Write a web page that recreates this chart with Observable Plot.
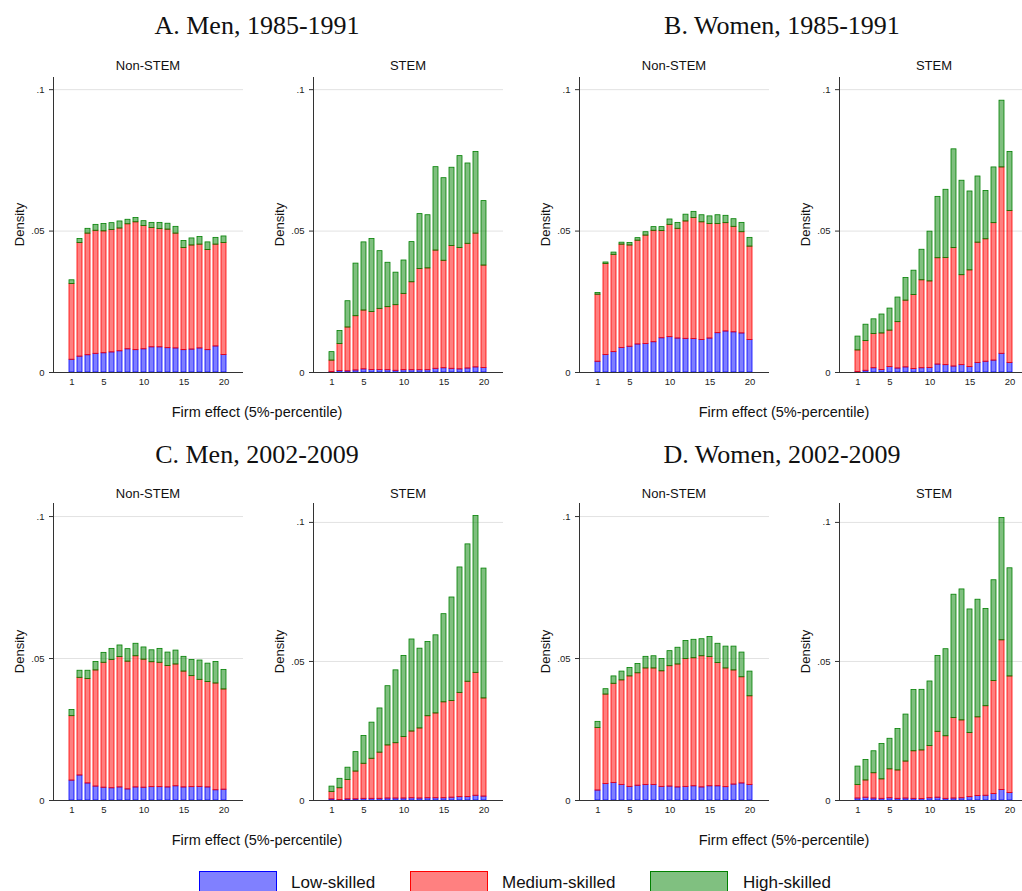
<!DOCTYPE html>
<html><head><meta charset="utf-8">
<script src="https://cdn.jsdelivr.net/npm/d3@7"></script>
<script src="https://cdn.jsdelivr.net/npm/@observablehq/plot@0.6"></script>
<style>
body{margin:0;background:#fff;}
#root{position:relative;width:1022px;height:891px;overflow:hidden;font-family:"Liberation Sans",Arial,sans-serif;color:#111;}
.t{position:absolute;white-space:nowrap;line-height:1;}
.title{font-family:"Liberation Serif","Times New Roman",serif;font-size:26px;text-align:center;width:400px;}
.sub{font-size:13px;text-align:center;width:190px;}
.xl{font-size:14.5px;text-align:center;width:300px;}
.yl{font-size:13px;transform:rotate(-90deg);transform-origin:center;text-align:center;width:80px;}
.box{position:absolute;width:78px;height:26px;box-sizing:border-box;}
.leg{font-size:17px;}
.sp{position:absolute;}
.sp svg{max-width:none !important;display:block;}
</style></head><body><div id="root"></div>
<script>
// ---------- data ----------
const bins = [1,2,3,4,5,6,7,8,9,10,11,12,13,14,15,16,17,18,19,20];
const skills = ["Low-skilled","Medium-skilled","High-skilled"];
const skillColors = ["#0000ff","#ff0000","#008000"];
const xTicks = [1,5,10,15,20];
const yTicks = [0,0.05,0.1];
const yTickLabels = ["0",".05",".1"];
const panelTitles = ["A. Men, 1985-1991","B. Women, 1985-1991","C. Men, 2002-2009","D. Women, 2002-2009"];
const subTitles = ["Non-STEM","STEM"];
const xLabel = "Firm effect (5%-percentile)";
const yLabel = "Density";

// A. Men, 1985-1991
const menEarlyNonStemLow  = [.0045,.0056,.0061,.0066,.0068,.0071,.0075,.0082,.0079,.0082,.0089,.0089,.0086,.0085,.0079,.0081,.0085,.0079,.0092,.0062];
const menEarlyNonStemMed  = [.0268,.0402,.0430,.0435,.0431,.0433,.0434,.0442,.0452,.0436,.0422,.0418,.0419,.0406,.0361,.0368,.0367,.0354,.0360,.0396];
const menEarlyNonStemHigh = [.0013,.0014,.0017,.0021,.0026,.0024,.0025,.0016,.0015,.0017,.0018,.0022,.0021,.0024,.0025,.0025,.0027,.0027,.0024,.0023];
const menEarlyStemLow  = [.0002,.0005,.0004,.0007,.0011,.0009,.0009,.0008,.0006,.0008,.0008,.0008,.0008,.0013,.0015,.0013,.0011,.0014,.0018,.0016];
const menEarlyStemMed  = [.0040,.0096,.0155,.0192,.0208,.0205,.0216,.0223,.0232,.0270,.0311,.0358,.0360,.0418,.0380,.0434,.0429,.0441,.0473,.0362];
const menEarlyStemHigh = [.0030,.0046,.0093,.0186,.0241,.0258,.0204,.0157,.0115,.0118,.0142,.0194,.0188,.0295,.0292,.0277,.0325,.0284,.0289,.0228];
// B. Women, 1985-1991
const womenEarlyNonStemLow  = [.0038,.0062,.0072,.0087,.0091,.0099,.0101,.0107,.0121,.0125,.0120,.0119,.0118,.0115,.0120,.0139,.0145,.0142,.0138,.0115];
const womenEarlyNonStemMed  = [.0237,.0322,.0344,.0365,.0358,.0367,.0383,.0394,.0379,.0397,.0388,.0415,.0428,.0416,.0405,.0386,.0383,.0373,.0358,.0330];
const womenEarlyNonStemHigh = [.0006,.0005,.0008,.0007,.0009,.0009,.0012,.0013,.0014,.0019,.0021,.0024,.0022,.0025,.0027,.0031,.0026,.0027,.0033,.0031];
const womenEarlyStemLow  = [.0002,.0006,.0015,.0009,.0019,.0014,.0018,.0012,.0015,.0016,.0028,.0026,.0021,.0026,.0019,.0034,.0038,.0042,.0066,.0034];
const womenEarlyStemMed  = [.0076,.0105,.0121,.0129,.0129,.0164,.0236,.0262,.0311,.0306,.0376,.0379,.0419,.0318,.0342,.0425,.0433,.0486,.0659,.0537];
const womenEarlyStemHigh = [.0049,.0058,.0052,.0067,.0078,.0087,.0080,.0086,.0108,.0176,.0217,.0241,.0349,.0334,.0279,.0234,.0171,.0197,.0236,.0209];
// C. Men, 2002-2009
const menLateNonStemLow  = [.0070,.0088,.0060,.0049,.0045,.0043,.0046,.0039,.0046,.0045,.0047,.0047,.0046,.0050,.0046,.0047,.0048,.0046,.0036,.0038];
const menLateNonStemMed  = [.0227,.0344,.0368,.0409,.0440,.0452,.0459,.0450,.0462,.0451,.0440,.0438,.0428,.0429,.0408,.0391,.0377,.0371,.0376,.0353];
const menLateNonStemHigh = [.0022,.0025,.0029,.0030,.0035,.0039,.0041,.0044,.0044,.0043,.0042,.0049,.0047,.0049,.0052,.0057,.0068,.0065,.0076,.0069];
const menLateStemLow  = [.0004,.0002,.0004,.0004,.0006,.0006,.0006,.0007,.0007,.0007,.0008,.0007,.0008,.0008,.0008,.0010,.0012,.0012,.0017,.0014];
const menLateStemMed  = [.0027,.0042,.0070,.0100,.0126,.0144,.0166,.0191,.0199,.0221,.0240,.0252,.0295,.0305,.0345,.0348,.0375,.0415,.0442,.0353];
const menLateStemHigh = [.0019,.0034,.0044,.0070,.0100,.0130,.0159,.0213,.0262,.0292,.0331,.0287,.0267,.0281,.0317,.0372,.0451,.0494,.0564,.0467];
// D. Women, 2002-2009
const womenLateNonStemLow  = [.0035,.0058,.0062,.0055,.0048,.0052,.0055,.0055,.0048,.0049,.0046,.0048,.0050,.0046,.0050,.0050,.0047,.0056,.0060,.0055];
const womenLateNonStemMed  = [.0220,.0315,.0349,.0368,.0389,.0396,.0410,.0410,.0407,.0424,.0433,.0450,.0451,.0462,.0455,.0434,.0418,.0402,.0374,.0312];
const womenLateNonStemHigh = [.0022,.0019,.0026,.0031,.0030,.0033,.0041,.0043,.0043,.0053,.0059,.0064,.0065,.0060,.0071,.0068,.0077,.0084,.0087,.0087];
const womenLateStemLow  = [.0007,.0010,.0007,.0006,.0008,.0006,.0007,.0006,.0005,.0008,.0010,.0006,.0007,.0008,.0012,.0016,.0017,.0023,.0038,.0027];
const womenLateStemMed  = [.0049,.0062,.0091,.0070,.0104,.0102,.0133,.0171,.0175,.0188,.0237,.0225,.0290,.0280,.0231,.0283,.0322,.0407,.0538,.0419];
const womenLateStemHigh = [.0066,.0074,.0079,.0127,.0110,.0149,.0169,.0220,.0218,.0232,.0273,.0313,.0443,.0471,.0444,.0423,.0350,.0362,.0440,.0389];

// ---------- layout ----------
const root = document.getElementById("root");
const axisXs = [53, 313, 579, 839];
const PW = 190, ML = 45, MR = 15, MT = 7, MB = 20;
const rows = [
  {svgTop: 70, plotH: 295, titleTop: 13, subTop: 59, xlTop: 405,
   panels: [[menEarlyNonStemLow,menEarlyNonStemMed,menEarlyNonStemHigh],[menEarlyStemLow,menEarlyStemMed,menEarlyStemHigh],
            [womenEarlyNonStemLow,womenEarlyNonStemMed,womenEarlyNonStemHigh],[womenEarlyStemLow,womenEarlyStemMed,womenEarlyStemHigh]],
   ymax: [0.1043,0.1043,0.1043,0.1043]},
  {svgTop: 496, plotH: 297, titleTop: 442, subTop: 487, xlTop: 833,
   panels: [[menLateNonStemLow,menLateNonStemMed,menLateNonStemHigh],[menLateStemLow,menLateStemMed,menLateStemHigh],
            [womenLateNonStemLow,womenLateNonStemMed,womenLateNonStemHigh],[womenLateStemLow,womenLateStemMed,womenLateStemHigh]],
   ymax: [0.1046,0.1068,0.1046,0.1068]}
];

function add(cls, text, left, top, extra) {
  const d = document.createElement("div");
  d.className = "t " + cls;
  d.textContent = text;
  d.style.left = left + "px";
  d.style.top = top + "px";
  if (extra) Object.assign(d.style, extra);
  root.appendChild(d);
  return d;
}

function subplot(series, ymax, plotH) {
  const data = [];
  bins.forEach((b, i) => {
    skills.forEach((s, k) => data.push({bin: b, skill: s, v: series[k][i]}));
  });
  return Plot.plot({
    width: ML + PW + MR, height: MT + plotH + MB,
    marginLeft: ML, marginRight: MR, marginTop: MT, marginBottom: MB,
    style: {fontFamily: "'Liberation Sans', Arial, sans-serif", fontSize: "9.5px", color: "#222", background: "transparent", overflow: "visible"},
    x: {type: "band", domain: bins, paddingInner: 0.33, paddingOuter: 1.67, align: 0.5},
    y: {domain: [0, ymax]},
    color: {domain: skills, range: skillColors},
    marks: [
      Plot.gridY({ticks: [0.05, 0.1], stroke: "#e2e2e2", strokeOpacity: 1}),
      Plot.barY(data, {x: "bin", y: "v", fill: "skill", stroke: "skill", fillOpacity: 0.5, strokeWidth: 0.8, order: skills}),
      Plot.ruleY([0], {stroke: "#333", strokeWidth: 1}),
      Plot.frame({anchor: "left", stroke: "#333"}),
      Plot.axisY({ticks: yTicks, tickFormat: d => yTickLabels[yTicks.indexOf(d)], tickSize: 4, tickPadding: 5, stroke: "#333", strokeOpacity: 1, label: null}),
      Plot.axisX({ticks: xTicks, tickSize: 0, tickPadding: 6, label: null})
    ]
  });
}

rows.forEach((row, r) => {
  add("title", panelTitles[r*2], 257 - 200, row.titleTop);
  add("title", panelTitles[r*2+1], 782 - 200, row.titleTop);
  add("xl", xLabel, 257 - 150, row.xlTop);
  add("xl", xLabel, 784 - 150, row.xlTop);
  row.panels.forEach((series, p) => {
    const ax = axisXs[p];
    const svg = subplot(series, row.ymax[p], row.plotH);
    const wrap = document.createElement("div");
    wrap.className = "sp";
    wrap.style.left = (ax - ML) + "px";
    wrap.style.top = row.svgTop + "px";
    wrap.style.width = (ML + PW + MR) + "px";
    wrap.appendChild(svg);
    root.appendChild(wrap);
    add("sub", subTitles[p % 2], ax, row.subTop);
    const midY = row.svgTop + MT + row.plotH / 2;
    add("yl", yLabel, ax - 34 - 40, midY - 6.5);
  });
});

// legend
const legX = [[199, 291], [410, 502], [650, 743]];
skills.forEach((s, k) => {
  const b = document.createElement("div");
  b.className = "box";
  b.style.left = legX[k][0] + "px";
  b.style.top = "871px";
  b.style.background = ["#8080ff", "#ff8080", "#80c080"][k];
  b.style.border = "1px solid " + skillColors[k];
  root.appendChild(b);
  add("leg", s, legX[k][1], 874);
});
</script></body></html>
